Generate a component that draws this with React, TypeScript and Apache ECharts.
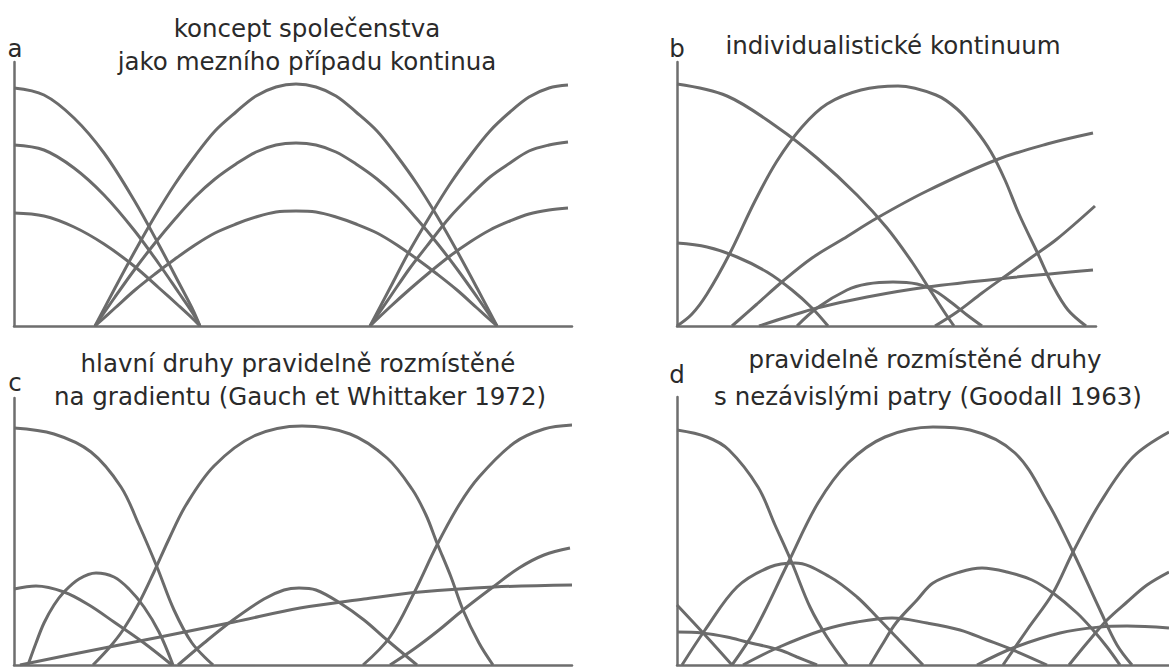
import { useEffect, useRef } from "react";
import * as echarts from "echarts";

// Panel frames: [left, top, width, height] in px; axis maxima equal the frame size
const frameA = [14, 62, 558, 264];
const frameB = [677, 62, 419, 264];
const frameC = [14, 398, 558, 267];
const frameD = [677, 397, 492, 268];

// a — community concept: three groups of nested response curves
const aLeftHigh = [[0, 238], [30, 231], [60, 208], [90, 173], [120, 126], [145, 81], [165, 43], [178, 18], [186, 0]];
const aLeftMid = [[0, 181], [30, 176], [60, 158], [90, 131], [120, 96], [145, 62], [165, 33], [178, 14], [186, 0]];
const aLeftLow = [[0, 113], [30, 110], [60, 99], [90, 82], [120, 60], [145, 38], [165, 20], [178, 8], [186, 0]];
const aMidHigh = [[81, 0], [101, 38], [121, 75], [141, 110], [161, 142], [181, 170], [201, 195], [222, 214], [242, 230], [262, 239], [282, 242], [302, 239], [322, 230], [342, 214], [363, 195], [383, 170], [403, 142], [423, 110], [443, 75], [463, 38], [483, 0]];
const aMidMid = [[81, 0], [101, 29], [121, 57], [141, 83], [161, 107], [181, 129], [201, 147], [222, 162], [242, 174], [262, 181], [282, 183], [302, 181], [322, 174], [342, 162], [363, 147], [383, 129], [403, 107], [423, 83], [443, 57], [463, 29], [483, 0]];
const aMidLow = [[81, 0], [101, 18], [121, 36], [141, 52], [161, 67], [181, 81], [201, 93], [222, 102], [242, 109], [262, 114], [282, 115], [302, 114], [322, 109], [342, 102], [363, 93], [383, 81], [403, 67], [423, 52], [443, 36], [463, 18], [483, 0]];
const aRightHigh = [[356, 0], [376, 38], [396, 76], [416, 110], [436, 142], [456, 170], [476, 195], [496, 214], [515, 229], [535, 238], [554, 241]];
const aRightMid = [[356, 0], [376, 29], [396, 58], [416, 84], [436, 109], [456, 130], [476, 149], [496, 163], [515, 175], [535, 181], [554, 184]];
const aRightLow = [[356, 0], [376, 19], [396, 37], [416, 54], [436, 70], [456, 84], [476, 96], [496, 105], [515, 112], [535, 116], [554, 118]];

// b — individualistic continuum
const b1 = [[0, 242], [50, 230], [100, 199], [140, 168], [180, 131], [210, 98], [235, 64], [255, 33], [268, 13], [277, 0]];
const b2 = [[0, 83], [30, 79], [60, 69], [90, 54], [115, 36], [135, 18], [151, 0]];
const b3 = [[0, 0], [15, 12], [30, 32], [52, 71], [78, 125], [100, 165], [125, 199], [150, 222], [184, 236], [221, 240], [259, 231], [280, 217], [298, 197], [314, 174], [328, 146], [342, 112], [361, 72], [376, 40], [391, 16], [409, 0]];
const b4 = [[55, 0], [80, 22], [106, 45], [135, 68], [166, 87], [200, 108], [250, 135], [319, 166], [370, 182], [416, 193]];
const b5 = [[82, 0], [110, 9], [140, 18], [190, 29], [250, 39], [330, 48], [416, 56]];
const b6 = [[120, 0], [140, 18], [170, 36], [190, 42], [216, 44], [240, 42], [258, 35], [275, 23], [290, 11], [305, 0]];
const b7 = [[258, 0], [280, 14], [305, 33], [330, 51], [355, 69], [380, 87], [418, 120]];

// c — dominant species evenly spaced along the gradient
const c1 = [[0, 237], [40, 231], [77, 213], [107, 178], [125, 140], [143, 98], [160, 55], [178, 22], [199, 0]];
const c2 = [[0, 76], [22, 79], [50, 73], [75, 60], [100, 43], [130, 22], [158, 0]];
const c3 = [[14, 0], [22, 22], [30, 42], [40, 60], [50, 73], [65, 86], [82, 92], [100, 88], [115, 76], [130, 58], [145, 33], [159, 0]];
const c4 = [[79, 0], [95, 17], [109, 35], [125, 62], [140, 93], [155, 126], [172, 160], [200, 199], [240, 229], [288, 239], [336, 231], [373, 207], [398, 176], [412, 150], [423, 122], [437, 88], [449, 55], [465, 22], [479, 0]];
const c5 = [[6, 0], [80, 15], [146, 28], [220, 43], [286, 57], [350, 66], [406, 73], [480, 78], [558, 80]];
const c6 = [[164, 0], [190, 22], [219, 45], [250, 66], [270, 75], [285, 77], [302, 75], [326, 62], [350, 45], [373, 25], [403, 0]];
const c7 = [[349, 0], [376, 28], [400, 72], [423, 120], [445, 160], [465, 188], [500, 222], [530, 236], [558, 240]];
const c8 = [[376, 0], [400, 16], [425, 35], [449, 55], [479, 78], [505, 97], [530, 110], [556, 117]];

// d — evenly spaced species with independent layers
const d1 = [[0, 235], [30, 228], [52, 215], [81, 178], [98, 140], [115, 102], [133, 58], [150, 28], [170, 0]];
const d2 = [[55, 0], [78, 35], [111, 102], [141, 162], [171, 202], [208, 228], [256, 238], [293, 235], [338, 212], [371, 162], [396, 113], [423, 55], [440, 20], [455, 0]];
const d3 = [[5, 0], [28, 35], [60, 78], [93, 98], [118, 102], [153, 88], [180, 68], [200, 48], [222, 25], [246, 0]];
const d4 = [[66, 0], [100, 17], [146, 35], [180, 43], [215, 47], [250, 42], [283, 35], [310, 25], [336, 15], [370, 0]];
const d5 = [[193, 0], [205, 20], [219, 42], [240, 65], [256, 82], [283, 93], [305, 97], [330, 93], [355, 85], [376, 72], [400, 52], [416, 35], [430, 18], [443, 0]];
const d6 = [[326, 0], [350, 35], [376, 72], [396, 113], [423, 162], [456, 208], [492, 233]];
const d7 = [[0, 60], [28, 30], [55, 0]];
const d8 = [[0, 33], [25, 32], [50, 28], [70, 23], [103, 15], [120, 8], [140, 0]];
const d9 = [[300, 0], [336, 17], [383, 32], [423, 38], [450, 39], [492, 37]];
const d10 = [[392, 0], [410, 22], [430, 45], [450, 63], [470, 80], [492, 93]];

const panelCurves = [
  [aLeftHigh, aLeftMid, aLeftLow, aMidHigh, aMidMid, aMidLow, aRightHigh, aRightMid, aRightLow],
  [b1, b2, b3, b4, b5, b6, b7],
  [c1, c2, c3, c4, c5, c6, c7, c8],
  [d1, d2, d3, d4, d5, d6, d7, d8, d9, d10],
];

// Panel letters and headings: [text, centre x, centre y]
const panelLetters = [
  ["a", 15, 48],
  ["b", 677, 48],
  ["c", 15, 382],
  ["d", 677, 374],
];
const headings = [
  ["koncept společenstva", 307, 28],
  ["jako mezního případu kontinua", 307, 61],
  ["individualistické kontinuum", 893, 45],
  ["hlavní druhy pravidelně rozmístěné", 298, 363],
  ["na gradientu (Gauch et Whittaker 1972)", 300, 396],
  ["pravidelně rozmístěné druhy", 925, 359],
  ["s nezávislými patry (Goodall 1963)", 928, 396],
];

const frames = [frameA, frameB, frameC, frameD];
const LINE = "#6b6b6b";
const TEXT = "#2a2a2a";
const FONT_FAMILY = "'DejaVu Sans', 'Open Sans', sans-serif";

export default function App() {
  const ref = useRef<HTMLDivElement>(null);

  useEffect(() => {
    if (!ref.current) return;
    const chart = echarts.init(ref.current, null, { renderer: "svg" });

    const grid = frames.map(([left, top, width, height]) => ({ left, top, width, height }));
    const axisLine = { show: true, lineStyle: { color: "#6e6e6e", width: 2.5 } };
    const xAxis = frames.map((f, i) => ({
      type: "value",
      gridIndex: i,
      min: 0,
      max: f[2],
      axisLine: { ...axisLine, onZero: false },
      axisTick: { show: false },
      axisLabel: { show: false },
      splitLine: { show: false },
    }));
    const yAxis = frames.map((f, i) => ({
      type: "value",
      gridIndex: i,
      min: 0,
      max: f[3],
      axisLine: { ...axisLine, onZero: false },
      axisTick: { show: false },
      axisLabel: { show: false },
      splitLine: { show: false },
    }));

    const series: any[] = [];
    panelCurves.forEach((curves, i) => {
      curves.forEach((data) => {
        series.push({
          type: "line",
          xAxisIndex: i,
          yAxisIndex: i,
          data,
          smooth: 0.35,
          symbol: "none",
          silent: true,
          lineStyle: { color: LINE, width: 3 },
        });
      });
    });

    const textEl = (text: string, x: number, y: number) => ({
      type: "text",
      x,
      y,
      silent: true,
      style: {
        text,
        fill: TEXT,
        font: `24.5px ${FONT_FAMILY}`,
        textAlign: "center",
        textVerticalAlign: "middle",
        align: "center",
        verticalAlign: "middle",
      },
    });

    const graphic = [
      ...headings.map(([t, x, y]) => textEl(t as string, x as number, y as number)),
      ...panelLetters.map(([t, x, y]) => textEl(t as string, x as number, y as number)),
    ];

    chart.setOption({
      animation: false,
      backgroundColor: "#ffffff",
      grid,
      xAxis,
      yAxis,
      series,
      graphic,
    });

    return () => chart.dispose();
  }, []);

  return (
    <div
      ref={ref}
      style={{ position: "fixed", left: 0, top: 0, width: 1169, height: 667, overflow: "hidden", background: "#fff" }}
    />
  );
}
